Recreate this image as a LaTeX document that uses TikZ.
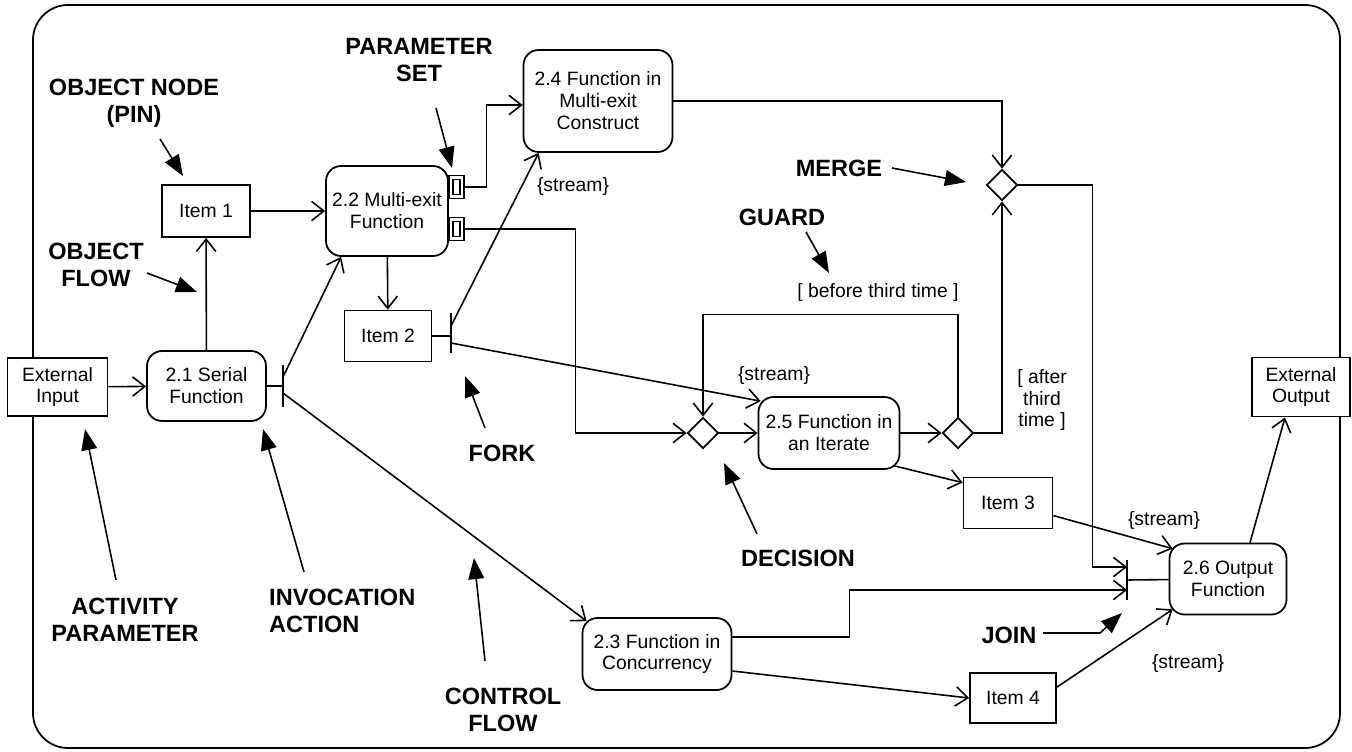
\documentclass[tikz,border=0pt]{standalone}
\usepackage{fontspec}
\setmainfont{Liberation Sans}
\usetikzlibrary{arrows.meta,shapes.geometric,calc}

\newcommand{\boxtxt}{\fontsize{11}{12.5}\selectfont}
\newcommand{\calltxt}{\fontsize{13.4}{15.3}\selectfont\bfseries}

\begin{document}
\begin{tikzpicture}[x=0.02cm, y=-0.02cm,
    activity/.style={draw, fill=white, rounded corners=0.3cm, align=center, inner sep=0pt, line width=1pt, font=\boxtxt},
    object/.style={draw, fill=white, align=center, inner sep=0pt, line width=1pt, font=\boxtxt},
    choice/.style={draw, diamond, fill=white, minimum width=0.62cm, minimum height=0.62cm, inner sep=0pt, line width=1pt},
    bar/.style={fill=black, minimum width=1.1pt, minimum height=0.8cm, inner sep=0pt},
    pinbox/.style={draw, double, double distance=1.5pt, line width=0.8pt, minimum width=0.22cm, minimum height=0.37cm, inner sep=0pt},
    flow/.style={-{Straight Barb[length=7pt,width=11pt]}, line width=0.9pt},
    link/.style={line width=0.9pt},
    callout/.style={font=\calltxt, align=center},
    pointer/.style={-{Triangle[length=12pt,width=9pt]}, line width=0.9pt},
    note/.style={font=\boxtxt, align=center}
]
    \useasboundingbox (0,0) rectangle (1352,751);
    % activity frame
    \draw[line width=1pt, rounded corners=0.7cm] (33,5) rectangle (1340,748);

    % actions and objects
    \node[object, minimum width=2cm, minimum height=1.16cm] (extin) at (57.5,387) {External\\Input};
    \node[activity, minimum width=2.38cm, minimum height=1.4cm] (serial) at (206.5,386) {2.1 Serial\\Function};
    \node[object, minimum width=1.76cm, minimum height=1.04cm] (item1) at (206,211) {Item 1};
    \node[activity, minimum width=2.44cm, minimum height=1.8cm] (multi) at (387,211) {2.2 Multi-exit\\Function};
    \node[pinbox] (pin1) at (456.5,187) {};
    \node[pinbox] (pin2) at (456.5,229) {};
    \node[object, minimum width=1.74cm, minimum height=1.02cm] (item2) at (388,336) {Item 2};
    \node[activity, minimum width=2.98cm, minimum height=2.04cm] (construct) at (598,101) {2.4 Function in\\Multi-exit\\Construct};
    \node[activity, minimum width=2.82cm, minimum height=1.44cm] (iterate) at (829,433) {2.5 Function in\\an Iterate};
    \node[object, minimum width=1.78cm, minimum height=1.02cm] (item3) at (1008,503) {Item 3};
    \node[activity, minimum width=2.98cm, minimum height=1.44cm] (concur) at (657,654) {2.3 Function in\\Concurrency};
    \node[object, minimum width=1.72cm, minimum height=1cm] (item4) at (1013,698) {Item 4};
    \node[activity, minimum width=2.34cm, minimum height=1.42cm] (output) at (1228,579) {2.6 Output\\Function};
    \node[object, minimum width=1.96cm, minimum height=1.18cm] (extout) at (1301,387) {External\\Output};

    % control nodes
    \node[bar, minimum height=0.84cm] (invbar) at (283,386) {};
    \node[bar] (forkbar) at (451,333) {};
    \node[bar] (joinbar) at (1127,580) {};
    \node[choice] (decision) at (703,433) {};
    \node[choice] (loopdiam) at (958,433) {};
    \node[choice] (merge) at (1002,185) {};

    % flows
    \draw[flow] (extin) -- (serial);
    \draw[flow] (serial) -- (item1);
    \draw[flow] (item1) -- (multi);
    \draw[link] (serial) -- (invbar);
    \draw[flow] ($(invbar)+(0,-9)$) -- ($(multi.south west)+(16,0)$);
    \draw[flow] ($(invbar)+(0,7)$) -- ($(concur.north west)+(5,4)$);
    \draw[flow] (multi) -- (item2);
    \draw[link] (item2.east) -- (item2.east -| forkbar);
    \draw[flow] ($(forkbar)+(0,-7)$) -- ($(construct.south west)+(16,0)$);
    \draw[flow] ($(forkbar)+(0,10)$) -- ($(iterate.north west)+(3,5)$);
    \draw[flow] (pin1.east) -- ++(24,0) |- ($(construct.west)+(0,4)$);
    \draw[flow] (pin2.east) -- ++(113,0) |- (decision.west);
    \draw[flow] (decision) -- (iterate);
    \draw[flow] (iterate) -- (loopdiam);
    \draw[flow] (loopdiam.north) -- ++(0,-102) -| (decision.north);
    \draw[flow] (loopdiam.east) -| (merge.south);
    \draw[flow] (construct.east) -| (merge.north);
    \draw[flow] (merge.east) -- ++(74,0) |- ($(joinbar)+(0,-13)$);
    \draw[flow] ($(iterate.south east)+(-6,-4)$) -- ($(item3.north west)+(0,6)$);
    \draw[flow] (item3) -- ($(output.north west)+(4,6)$);
    \draw[flow] ($(concur.east)+(0,-17)$) -- ++(117,0) |- ($(joinbar)+(0,10)$);
    \draw[flow] ($(concur.east)+(0,17)$) -- (item4.west);
    \draw[flow] ($(item4.north east)+(0,15)$) -- ($(output.south west)+(4,-6)$);
    \draw[link] (joinbar) -- (output);
    \draw[flow] ($(output.north)+(22,0)$) -- ($(extout.south)+(-16,0)$);

    % flow notes
    \node[note] (s1) at (573,186) {\{stream\}};
    \node[note] (s2) at (774,375) {\{stream\}};
    \node[note] (s3) at (1164,520) {\{stream\}};
    \node[note] (s4) at (1188,663) {\{stream\}};
    \node[note] (guard1) at (878,292) {[ before third time ]};
    \node[note] (guard2) at (1042,400) {[ after\\third\\time ]};

    % callouts
    \node[callout] (lblpset) at (419,60) {PARAMETER\\SET};
    \node[callout] (lblpin) at (134,103) {OBJECT NODE\\(PIN)};
    \node[callout] (lblofl) at (96,265) {OBJECT\\FLOW};
    \node[callout] (lblact) at (125,620) {ACTIVITY\\PARAMETER};
    \node[callout, align=left, anchor=west] (lblinv) at (263,611) {INVOCATION\\ACTION};
    \node[callout] (lblctrl) at (503,710) {CONTROL\\FLOW};
    \node[callout] (lblfork) at (502,453) {FORK};
    \node[callout] (lbldec) at (798,558) {DECISION};
    \node[callout] (lblmerge) at (839,168) {MERGE};
    \node[callout] (lblguard) at (782,217) {GUARD};
    \node[callout] (lbljoin) at (1009,635) {JOIN};

    \coordinate (psettip) at (452,168);
    \coordinate (pintip) at (183,176);
    \coordinate (ofltip) at (197,292);
    \coordinate (acttip) at (85,429);
    \coordinate (invtip) at (263,429);
    \coordinate (ctrltip) at (474,558);
    \coordinate (forktip) at (465,376);
    \coordinate (dectip) at (724,463);
    \coordinate (mergetip) at (966,182);
    \coordinate (guardtip) at (829,273);
    \coordinate (jointip) at (1122,613);

    \draw[pointer] ($(lblpset)+(17,48)$) -- (psettip);
    \draw[pointer] ($(lblpin)+(26,36)$) -- (pintip);
    \draw[pointer] ($(lblofl)+(51,8)$) -- (ofltip);
    \draw[pointer] ($(lblact)+(-9,-40)$) -- (acttip);
    \draw[pointer] ($(lblinv.west)+(41,-39)$) -- (invtip);
    \draw[pointer] ($(lblctrl)+(-18,-49)$) -- (ctrltip);
    \draw[pointer] ($(lblfork)+(-17,-25)$) -- (forktip);
    \draw[pointer] ($(lbldec)+(-41,-24)$) -- (dectip);
    \draw[pointer] ($(lblmerge)+(53,0)$) -- (mergetip);
    \draw[pointer] ($(lblguard)+(24,15)$) -- (guardtip);
    \draw[pointer] ($(lbljoin)+(34,-2)$) -- ++(57,0) -- (jointip);
\end{tikzpicture}
\end{document}
